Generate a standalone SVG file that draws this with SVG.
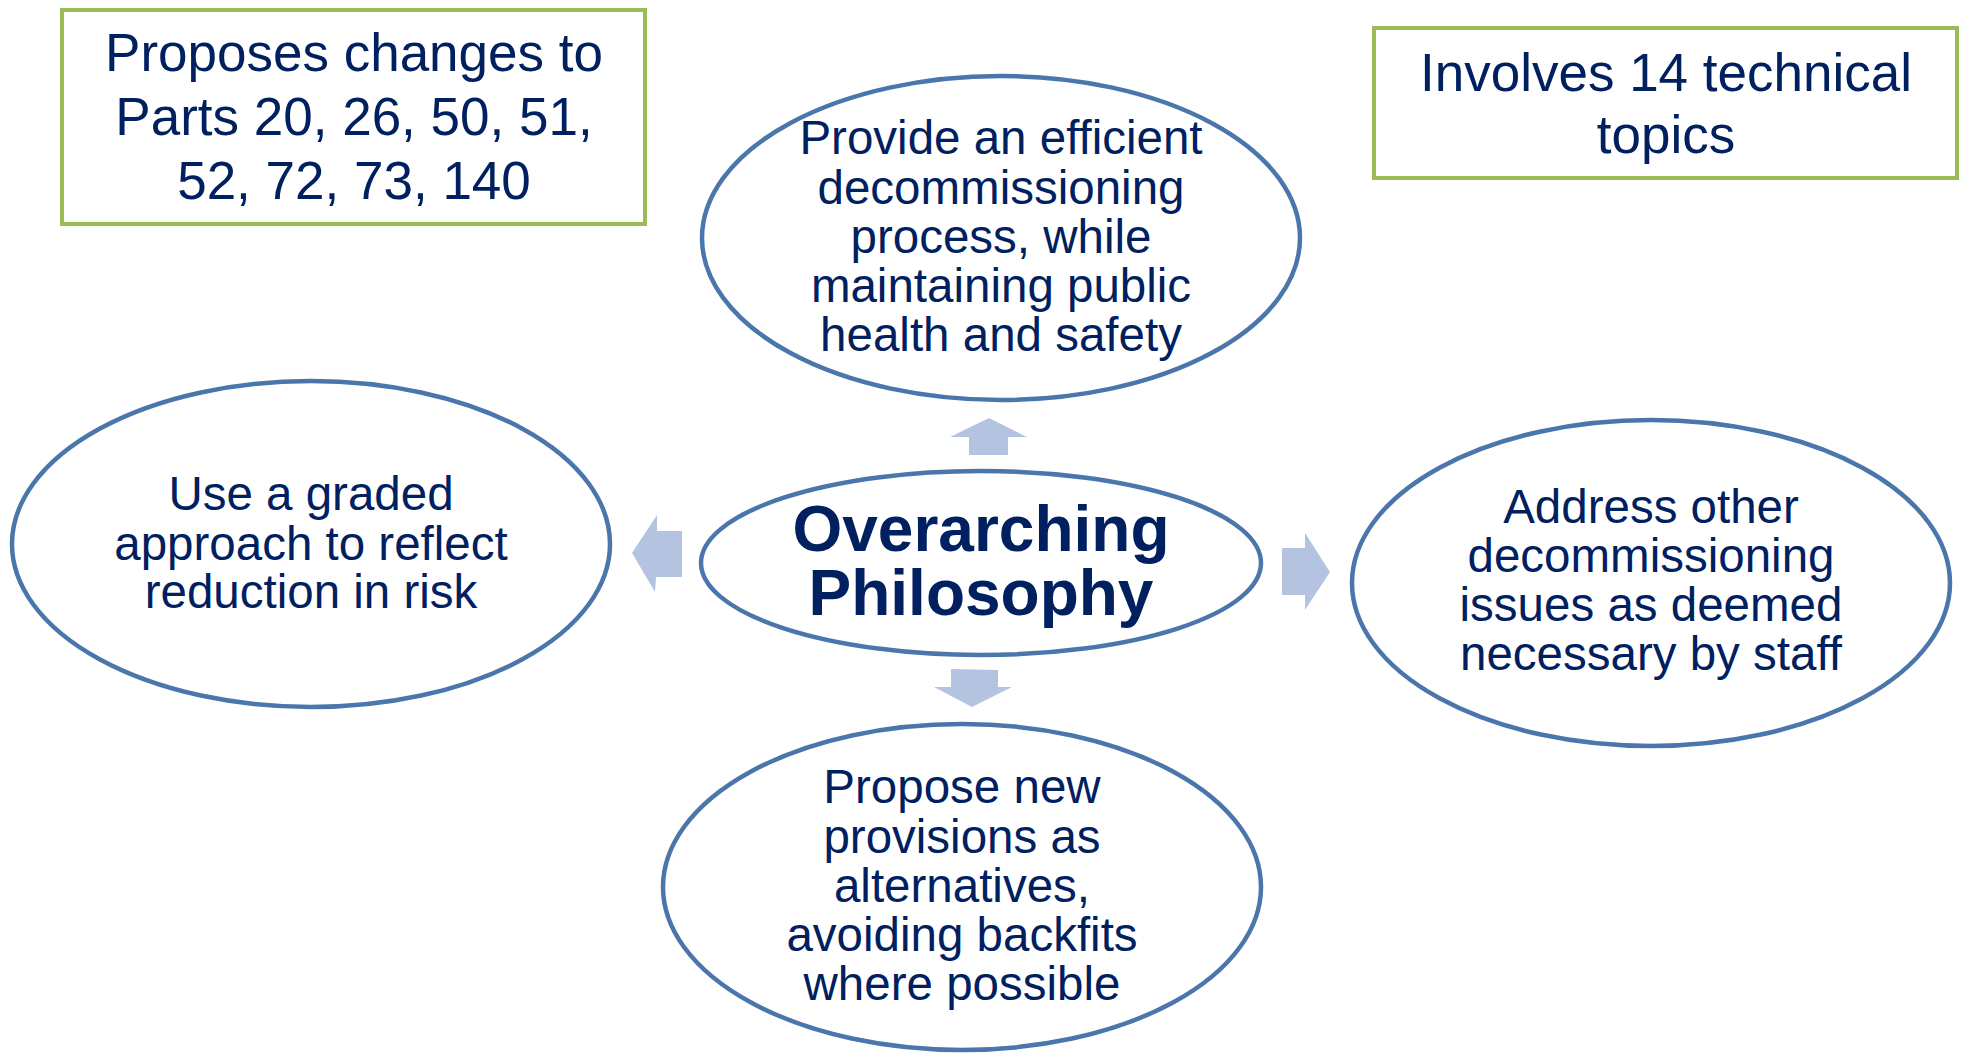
<svg xmlns="http://www.w3.org/2000/svg" width="1961" height="1055" viewBox="0 0 1961 1055">
<style>
.box{fill:#ffffff;stroke:#9BBB59;stroke-width:4}
.ell{fill:#ffffff;stroke:#4A76AC;stroke-width:4.5}
.arr{fill:#B4C4E0;stroke:none}
.t{font-family:"Liberation Sans",Arial,sans-serif;fill:#002060;text-anchor:middle}
.tb{font-size:53px}
.te{font-size:47.5px}
.tc{font-size:64px;font-weight:bold}
</style>
<rect width="1961" height="1055" fill="#ffffff"/>
<g id="connectors">
<polygon class="arr" points="989,418 1027,437 1008,437 1008,455 969,455 969,437 950,437"/>
<polygon class="arr" points="632,553 657,515 657,531 682,531 682,577 656,577 655,592"/>
<polygon class="arr" points="1330,572 1305,610 1305,595 1282,595 1282,548 1305,548 1305,533"/>
<polygon class="arr" points="972,707 934,687 951,687 951,669 998,670 998,687 1012,687"/>
</g>
<g id="box-parts">
<rect class="box" x="62" y="10" width="583" height="214"/>
<text class="t tb"><tspan x="354" y="71">Proposes changes to</tspan><tspan x="354" y="135">Parts 20, 26, 50, 51,</tspan><tspan x="354" y="199">52, 72, 73, 140</tspan></text>
</g>
<g id="box-topics">
<rect class="box" x="1374" y="28" width="583" height="150"/>
<text class="t tb"><tspan x="1666" y="91">Involves 14 technical</tspan><tspan x="1666" y="153">topics</tspan></text>
</g>
<g id="node-top">
<ellipse class="ell" cx="1001" cy="238" rx="299" ry="162"/>
<text class="t te"><tspan x="1001" y="154">Provide an efficient</tspan><tspan x="1001" y="204">decommissioning</tspan><tspan x="1001" y="253">process, while</tspan><tspan x="1001" y="302">maintaining public</tspan><tspan x="1001" y="351">health and safety</tspan></text>
</g>
<g id="node-left">
<ellipse class="ell" cx="311" cy="544" rx="299" ry="163"/>
<text class="t te"><tspan x="311" y="510">Use a graded</tspan><tspan x="311" y="560">approach to reflect</tspan><tspan x="311" y="608">reduction in risk</tspan></text>
</g>
<g id="node-right">
<ellipse class="ell" cx="1651" cy="583" rx="299" ry="163"/>
<text class="t te"><tspan x="1651" y="523">Address other</tspan><tspan x="1651" y="572">decommissioning</tspan><tspan x="1651" y="621">issues as deemed</tspan><tspan x="1651" y="670">necessary by staff</tspan></text>
</g>
<g id="node-bottom">
<ellipse class="ell" cx="962" cy="887" rx="299" ry="163"/>
<text class="t te"><tspan x="962" y="803">Propose new</tspan><tspan x="962" y="853">provisions as</tspan><tspan x="962" y="902">alternatives,</tspan><tspan x="962" y="951">avoiding backfits</tspan><tspan x="962" y="1000">where possible</tspan></text>
</g>
<g id="node-center">
<ellipse class="ell" cx="981" cy="563" rx="280" ry="92"/>
<text class="t tc"><tspan x="981" y="551">Overarching</tspan><tspan x="981" y="615">Philosophy</tspan></text>
</g>
</svg>
